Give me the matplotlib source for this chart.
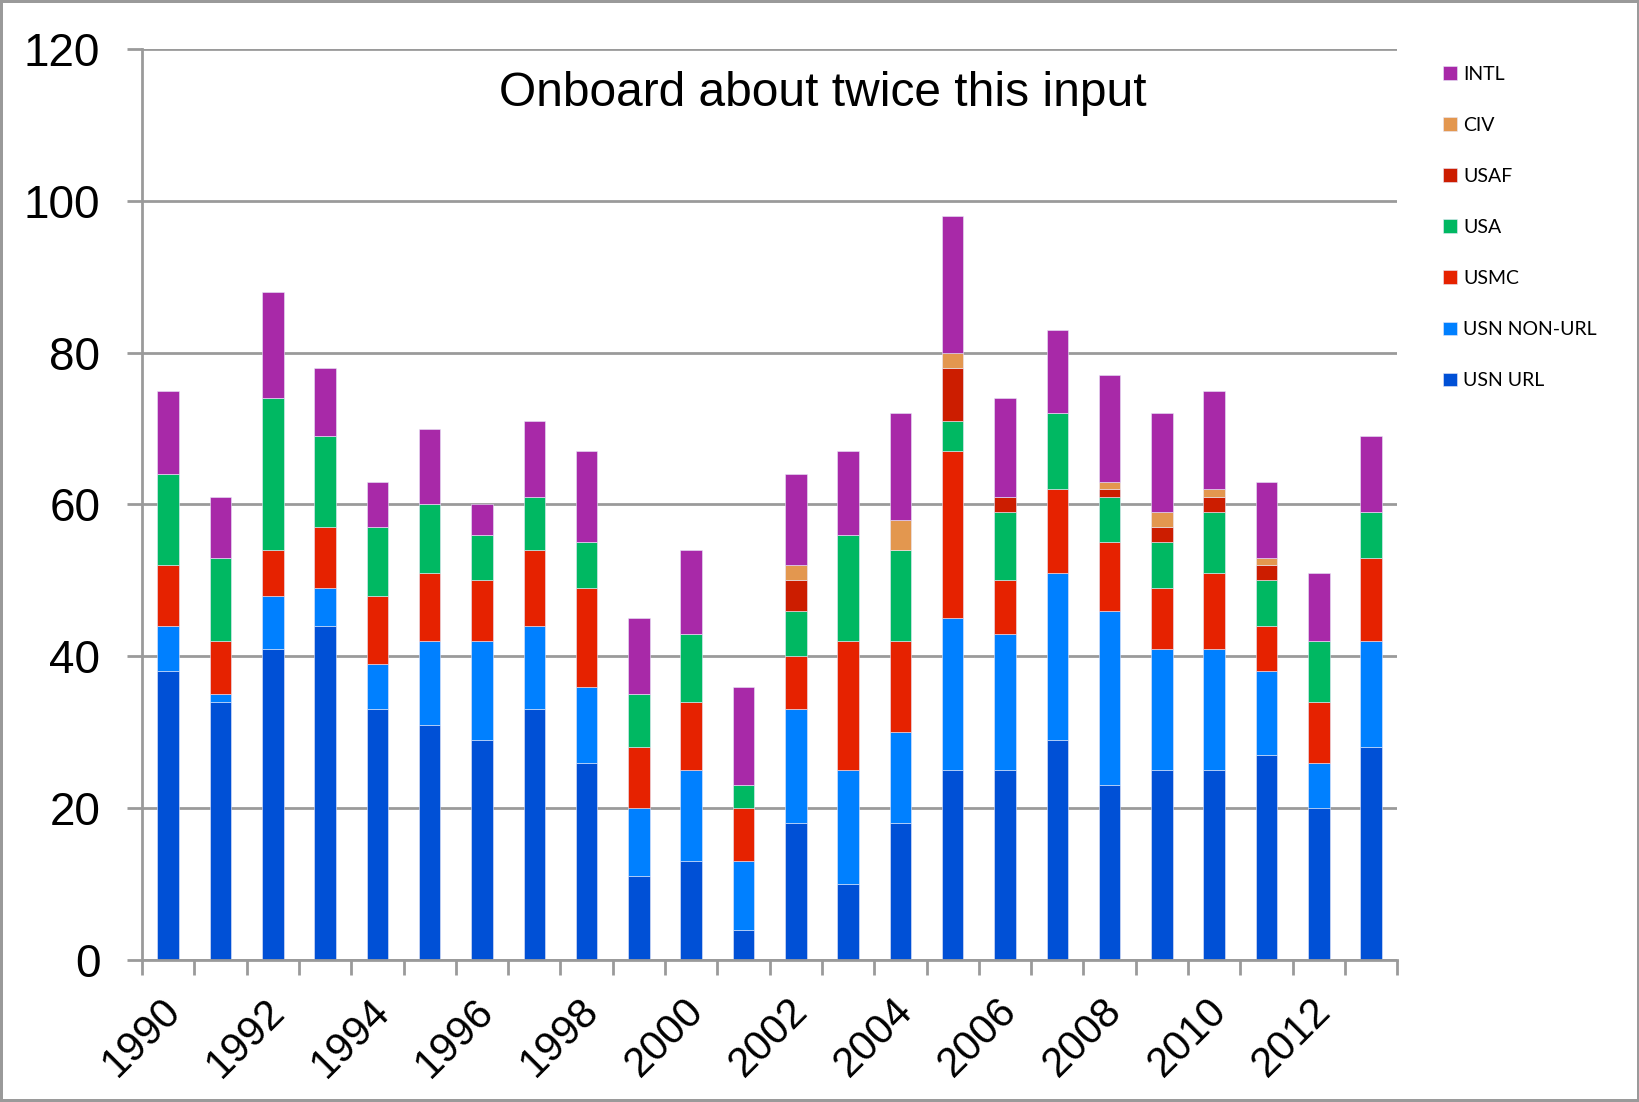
import matplotlib
matplotlib.use("Agg")
import matplotlib.pyplot as plt
import matplotlib.transforms as mtransforms
import numpy as np

years = [str(y) for y in range(1990, 2014)]

usn_url = [38, 34, 41, 44, 33, 31, 29, 33, 26, 11, 13, 4, 18, 10, 18, 25, 25, 29, 23, 25, 25, 27, 20, 28]
usn_non_url = [6, 1, 7, 5, 6, 11, 13, 11, 10, 9, 12, 9, 15, 15, 12, 20, 18, 22, 23, 16, 16, 11, 6, 14]
usmc = [8, 7, 6, 8, 9, 9, 8, 10, 13, 8, 9, 7, 7, 17, 12, 22, 7, 11, 9, 8, 10, 6, 8, 11]
usa = [12, 11, 20, 12, 9, 9, 6, 7, 6, 7, 9, 3, 6, 14, 12, 4, 9, 10, 6, 6, 8, 6, 8, 6]
usaf = [0, 0, 0, 0, 0, 0, 0, 0, 0, 0, 0, 0, 4, 0, 0, 7, 2, 0, 1, 2, 2, 2, 0, 0]
civ = [0, 0, 0, 0, 0, 0, 0, 0, 0, 0, 0, 0, 2, 0, 4, 2, 0, 0, 1, 2, 1, 1, 0, 0]
intl = [11, 8, 14, 9, 6, 10, 4, 10, 12, 10, 11, 13, 12, 11, 14, 18, 13, 11, 14, 13, 13, 10, 9, 10]

series = [
    ("USN URL", usn_url, "#0050D6"),
    ("USN NON-URL", usn_non_url, "#0080FF"),
    ("USMC", usmc, "#E62200"),
    ("USA", usa, "#00B862"),
    ("USAF", usaf, "#CC1D00"),
    ("CIV", civ, "#E3974F"),
    ("INTL", intl, "#A829A8"),
]

grid_col = "#9A9A9A"

fig = plt.figure(figsize=(16.4, 11.02), dpi=100)
fig.patch.set_edgecolor(grid_col)
fig.patch.set_linewidth(3)
ax = fig.add_axes([0.0866, 0.1289, 0.852 - 0.0866, 0.9555 - 0.1289])

x = np.arange(len(years))
bottom = np.zeros(len(years))
handles = []
for name, vals, col in series:
    vals = np.array(vals, dtype=float)
    b = ax.bar(x, vals, width=0.41, bottom=bottom, color=col, edgecolor="#E8E8F8",
               linewidth=0.4, label=name)
    handles.append(b)
    bottom += vals

ax.set_xlim(-0.5, len(years) - 0.5)
ax.set_ylim(0, 120)
ax.set_yticks(range(0, 121, 20))
ax.yaxis.grid(True, color=grid_col, linewidth=2)
ax.set_axisbelow(True)

for s in ["top", "right"]:
    ax.spines[s].set_visible(False)
for s in ["left", "bottom"]:
    ax.spines[s].set_color(grid_col)
    ax.spines[s].set_linewidth(2)

ax.set_xticks(x[::2])
ax.set_xticklabels(years[::2], rotation=45, ha="right", rotation_mode="anchor",
                   fontsize=30, family="Liberation Sans")
ax.set_xticks(np.arange(-0.5, len(years), 1), minor=True)
ax.tick_params(axis="x", which="major", length=0, pad=18)
ax.tick_params(axis="x", which="minor", length=11, width=2, color=grid_col)
ax.tick_params(axis="y", length=11, width=2, color=grid_col, pad=19, labelsize=33)
for lab in ax.get_yticklabels():
    lab.set_family("Liberation Sans")

# nudge the year labels a little left and down, like the original
shift = mtransforms.ScaledTranslation(-8 / 100, -6 / 100, fig.dpi_scale_trans)
for lab in ax.get_xticklabels():
    lab.set_transform(lab.get_transform() + shift)

fig.text(0.502, 0.915, "Onboard about twice this input", ha="center", va="center",
         fontsize=34.5, family="Liberation Sans")

leg = fig.legend(handles[::-1], [s[0] for s in series][::-1], loc="upper left",
                 bbox_to_anchor=(0.8695, 0.956), frameon=False,
                 prop={"family": "Lato", "size": 14},
                 handlelength=0.7, handleheight=0.7, handletextpad=0.3,
                 labelspacing=1.75)

fig.savefig("out.png", dpi=100)
